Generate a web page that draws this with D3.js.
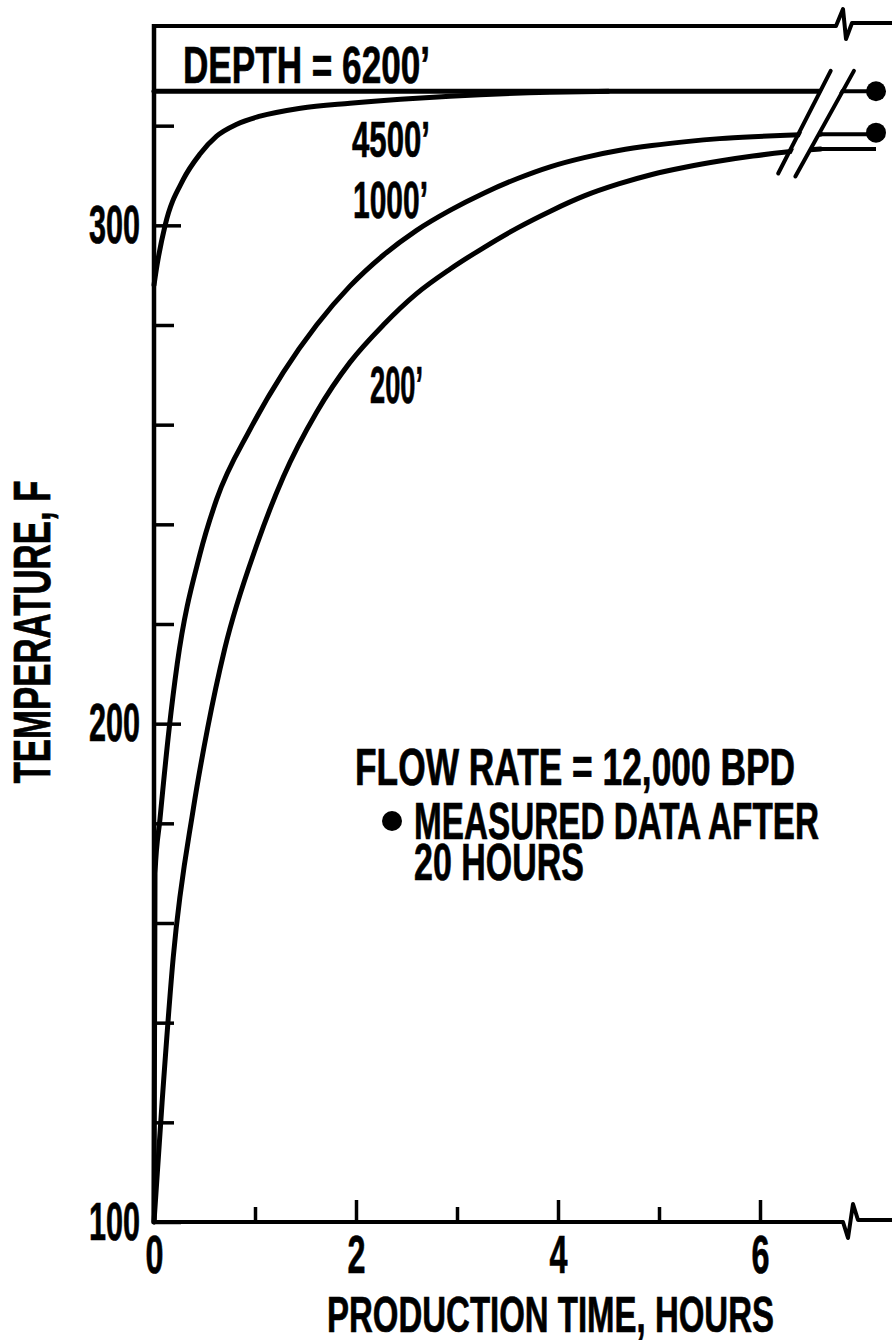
<!DOCTYPE html>
<html>
<head>
<meta charset="utf-8">
<title>Temperature vs production time</title>
<script src="https://d3js.org/d3.v7.min.js"></script>
<style>
  body { margin: 0; background: #fff; }
  text { font-family: 'Liberation Sans Narrow', 'Arial Narrow', 'Liberation Sans', Arial, sans-serif; font-weight: bold; fill: #000; stroke: #000; stroke-width: 0.7px; }
</style>
</head>
<body>
<svg width="892" height="1340"></svg>
<script>
// production time (hours) and temperature (F)
const hours4500 = [0, 0.03, 0.11, 0.29, 0.455, 0.62, 0.82, 1.05, 1.45, 1.94, 2.44, 2.93, 3.92, 4.5];
const temp4500  = [288, 292, 300, 309.2, 314.3, 317.9, 320.3, 321.9, 323.5, 324.5, 325.3, 325.9, 326.7, 326.9];

const hours1000 = [0, 0.01, 0.06, 0.15, 0.23, 0.455, 0.62, 0.95, 1.28, 1.61, 1.94, 2.27, 2.60, 2.93, 3.27, 3.60, 3.93, 4.26, 4.60, 4.93, 5.27, 5.60, 5.93, 6.26, 6.6];
const temp1000  = [100, 170, 181, 199, 212, 234, 245, 259, 270.5, 280, 287.8, 294, 299, 303, 306.5, 309.4, 311.8, 313.6, 315.0, 316.0, 316.8, 317.4, 317.8, 318.1, 318.3];

const hours200 = [0, 0.08, 0.19, 0.39, 0.53, 0.70, 1.02, 1.28, 1.61, 1.94, 2.27, 2.60, 2.93, 3.27, 3.60, 3.93, 4.26, 4.60, 4.93, 5.27, 5.60, 5.93, 6.26, 6.6];
const temp200  = [100, 124, 153, 183, 199, 215, 236, 249.5, 262.5, 272.5, 280, 286.3, 291.2, 295.6, 299.5, 302.9, 305.9, 308.3, 310.2, 311.7, 312.9, 313.9, 314.7, 315.3];

const hours6200 = [0, 6.6];
const temp6200  = [326.9, 326.9];

// values after the axis break (20 hours)
const lateHours = 20;
const lateTemps = [326.9, 318.3, 315.3];   // 6200', 1000', 200'
const measuredTemps = [326.9, 318.6];      // measured data after 20 hours

const xTicks = [0, 1, 2, 3, 4, 5, 6];
const yTicks = [100, 120, 140, 160, 180, 200, 220, 240, 260, 280, 300, 320];

const svg = d3.select("svg");
svg.append("rect").attr("width", 892).attr("height", 1340).attr("fill", "#fff");

const x = d3.scaleLinear().domain([0, 7]).range([154, 861]);
const y = d3.scaleLinear().domain([100, 340]).range([1222, 26]);
const xLate = d3.scaleLinear().domain([6.6, lateHours]).range([x(6.6), 876]);

const line = d3.line().x(d => x(d[0])).y(d => y(d[1])).curve(d3.curveMonotoneX);
const zip = (a, b) => a.map((v, i) => [v, b[i]]);

const curves = [
  zip(hours6200, temp6200),
  zip(hours4500, temp4500),
  zip(hours1000, temp1000),
  zip(hours200, temp200)
];

svg.append("g")
  .selectAll("path")
  .data(curves)
  .enter()
  .append("path")
  .attr("d", line)
  .attr("fill", "none")
  .attr("stroke", "#000")
  .attr("stroke-width", 5)
  .attr("stroke-linecap", "round");

// after the break
svg.append("g")
  .selectAll("line")
  .data(lateTemps)
  .enter()
  .append("line")
  .attr("x1", xLate(6.6))
  .attr("x2", xLate(lateHours))
  .attr("y1", d => y(d))
  .attr("y2", d => y(d))
  .attr("stroke", "#000")
  .attr("stroke-width", 4);

// double slash break across the curves
const slash1 = [[6.18, 310.4], [6.70, 331.0]];
const slash2 = [[6.35, 309.8], [6.93, 331.0]];
svg.append("path")
  .attr("d", `M${x(slash1[0][0]) + 2},${y(slash1[0][1]) + 4} L${x(slash1[1][0]) + 2},${y(slash1[1][1]) - 2} L${x(slash2[1][0]) - 2},${y(slash2[1][1]) - 2} L${x(slash2[0][0]) - 2},${y(slash2[0][1]) + 4} Z`)
  .attr("fill", "#fff");
svg.append("g")
  .selectAll("line")
  .data([slash1, slash2])
  .enter()
  .append("line")
  .attr("x1", d => x(d[0][0]))
  .attr("y1", d => y(d[0][1]))
  .attr("x2", d => x(d[1][0]))
  .attr("y2", d => y(d[1][1]))
  .attr("stroke", "#000")
  .attr("stroke-width", 4)
  .attr("stroke-linecap", "round");

svg.append("g")
  .selectAll("circle")
  .data(measuredTemps)
  .enter()
  .append("circle")
  .attr("cx", xLate(lateHours))
  .attr("cy", d => y(d))
  .attr("r", 10)
  .attr("fill", "#000");

// top border and x axis line with break marks
const yTop = y(340), yBot = y(100);
svg.append("path")
  .attr("d", `M${x(0)},${yTop} H836 L843,${yTop - 17} L846,${yTop + 13} L852,${yTop - 3} H892`)
  .attr("fill", "none").attr("stroke", "#000").attr("stroke-width", 4).attr("stroke-linejoin", "round");
svg.append("path")
  .attr("d", `M${x(0)},${yBot} H843 L848,${yBot + 16} L853,${yBot - 18} L858,${yBot - 2} H892`)
  .attr("fill", "none").attr("stroke", "#000").attr("stroke-width", 4).attr("stroke-linejoin", "round");

// y axis
const yAxis = svg.append("g")
  .attr("transform", `translate(${x(0)},0)`)
  .call(d3.axisLeft(y).tickValues(yTicks).tickSize(-20).tickSizeOuter(0).tickPadding(14)
    .tickFormat(d => d % 100 === 0 ? d : ""));
yAxis.select(".domain").attr("d", `M0,${yTop - 2}V${yBot + 2}`).attr("stroke-width", 4.5);
yAxis.selectAll(".tick line")
  .attr("x2", d => d % 100 === 0 ? 27 : 20)
  .attr("stroke-width", 3.5);
yAxis.selectAll(".tick text")
  .attr("font-size", 54)
  .attr("font-family", null)
  .attr("textLength", d => String(d).length * 17)
  .attr("lengthAdjust", "spacingAndGlyphs");

// x axis
const xAxis = svg.append("g")
  .attr("transform", `translate(0,${yBot})`)
  .call(d3.axisBottom(x).tickValues(xTicks).tickSize(-15).tickSizeOuter(0).tickPadding(13)
    .tickFormat(d => d % 2 === 0 ? d : ""));
xAxis.select(".domain").remove();
xAxis.selectAll(".tick line")
  .attr("y2", d => d === 0 ? 0 : (d % 2 === 0 ? -22 : -15))
  .attr("stroke-width", 3.5);
xAxis.selectAll(".tick text")
  .attr("font-size", 54)
  .attr("font-family", null)
  .attr("textLength", 18)
  .attr("lengthAdjust", "spacingAndGlyphs");

// text labels
function label(txt, lx, ly, w, size) {
  return svg.append("text")
    .attr("x", lx).attr("y", ly)
    .attr("font-size", size)
    .attr("textLength", w)
    .attr("lengthAdjust", "spacingAndGlyphs")
    .text(txt);
}
label("DEPTH = 6200\u2019", 183, 83, 247, 52);
label("4500\u2019", 352, 157, 78, 50);
label("1000\u2019", 353, 218, 75, 51);
label("200\u2019", 370, 403, 53, 51);
label("FLOW RATE = 12,000 BPD", 355, 785, 440, 51);
label("MEASURED DATA AFTER", 414, 839, 405, 51);
label("20 HOURS", 414, 880, 170, 51);
svg.append("circle").attr("cx", 392).attr("cy", 821).attr("r", 10).attr("fill", "#000");
label("PRODUCTION TIME, HOURS", 327, 1332, 447, 50);

svg.append("text")
  .attr("transform", "translate(50,632) rotate(-90)")
  .attr("text-anchor", "middle")
  .attr("font-size", 52)
  .attr("textLength", 303)
  .attr("lengthAdjust", "spacingAndGlyphs")
  .text("TEMPERATURE, F");
</script>
</body>
</html>
